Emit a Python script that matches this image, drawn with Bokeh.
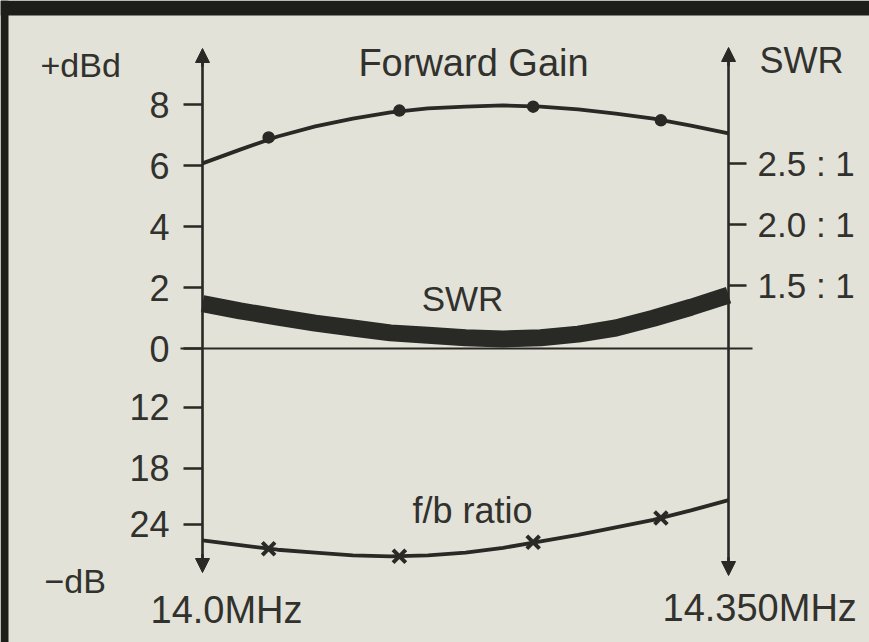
import numpy as np
from bokeh.plotting import figure
from bokeh.models import LinearAxis, FixedTicker, Range1d, Arrow, NormalHead
from bokeh.core.properties import value
from bokeh.embed import file_html
from bokeh.resources import INLINE

# ---------------- data ----------------
freq_mhz = [14.000, 14.025, 14.050, 14.075, 14.100, 14.125, 14.150, 14.175,
            14.200, 14.225, 14.250, 14.275, 14.300, 14.325, 14.350]
gain_dbd = [6.07, 6.52, 6.95, 7.28, 7.54, 7.74, 7.87, 7.93,
            7.97, 7.93, 7.84, 7.70, 7.54, 7.31, 7.05]
swr_ratio = [1.35, 1.29, 1.24, 1.19, 1.15, 1.11, 1.09, 1.07,
             1.06, 1.07, 1.10, 1.15, 1.23, 1.32, 1.42]
fb_db = [25.7, 26.2, 26.7, 27.0, 27.3, 27.4, 27.3, 27.0,
         26.5, 25.8, 25.1, 24.3, 23.5, 22.5, 21.4]

marker_freq = [14.044, 14.131, 14.220, 14.305]
marker_gain = [6.92, 7.80, 7.93, 7.48]
marker_fb = [26.6, 27.4, 25.9, 23.3]

gain_ticks = [8, 6, 4, 2, 0]
fb_ticks = [12, 18, 24]
swr_ticks = [2.5, 2.0, 1.5]
swr_tick_labels = ["2.5 : 1", "2.0 : 1", "1.5 : 1"]
freq_labels = ["14.0MHz", "14.350MHz"]

# lower (f/b) half of the left scale is drawn downward, non-linear below 12 dB
FB_DB_BREAKS = [0, 12, 18, 24, 30]
FB_POS_BREAKS = [0, -1.93, -3.93, -5.77, -7.61]


def fb_pos(db):
    return np.interp(db, FB_DB_BREAKS, FB_POS_BREAKS)


SWR_AT_ZERO = 0.982
SWR_PER_UNIT = 0.25

INK = "#292925"
TXT = "#31312d"
BG = "#e3e2d8"
DARK = "#1d1d1a"
FONT = value("Liberation Sans")

# ---------------- figure / scales ----------------
W, H = 869, 642
PX_PER_MHZ = 1503.0
PX_PER_UNIT = 30.5
X_AXIS_PX, Y_ZERO_PX = 202, 348
x0 = 14.0 - X_AXIS_PX / PX_PER_MHZ
x1 = 14.0 + (W - X_AXIS_PX) / PX_PER_MHZ
y1 = Y_ZERO_PX / PX_PER_UNIT
y0 = (Y_ZERO_PX - H) / PX_PER_UNIT


def px_x(px):
    return 14.0 + (px - X_AXIS_PX) / PX_PER_MHZ


def px_y(py):
    return (Y_ZERO_PX - py) / PX_PER_UNIT


p = figure(width=W, height=H, output_backend="svg", toolbar_location=None,
           x_range=Range1d(x0, x1), y_range=Range1d(y0, y1),
           x_axis_location=None, y_axis_location=None,
           min_border=0, min_border_left=0, min_border_right=0,
           min_border_top=0, min_border_bottom=0)
p.background_fill_color = BG
p.border_fill_color = BG
p.outline_line_color = None
p.grid.visible = False

p.extra_y_ranges = {"swr": Range1d(SWR_AT_ZERO + y0 * SWR_PER_UNIT,
                                   SWR_AT_ZERO + y1 * SWR_PER_UNIT)}

# dark scan edges (top band and left strip)
p.quad(left=[x0, x0], right=[x1, px_x(8)], top=[y1, y1], bottom=[px_y(15), y0],
       fill_color=DARK, line_color=None)

# left axis (gain up, f/b down)
left_ticks = gain_ticks + [float(fb_pos(v)) for v in fb_ticks]
overrides = {float(t): str(t) for t in gain_ticks}
for v in fb_ticks:
    overrides[float(fb_pos(v))] = str(v)
lax = LinearAxis(fixed_location=freq_mhz[0], bounds=(-7.2, 9.7),
                 ticker=FixedTicker(ticks=left_ticks),
                 major_label_overrides=overrides)
lax.axis_line_width = 2.6
lax.axis_line_color = INK
lax.major_tick_line_width = 2.6
lax.major_tick_line_color = INK
lax.major_tick_out = 19
lax.major_tick_in = 0
lax.minor_tick_line_color = None
lax.major_label_standoff = 14
lax.major_label_text_font = "Liberation Sans"
lax.major_label_text_font_size = "36px"
lax.major_label_text_color = TXT
p.add_layout(lax, "left")

# right axis (SWR)
rax = LinearAxis(fixed_location=freq_mhz[-1], y_range_name="swr",
                 bounds=(SWR_AT_ZERO - 7.3 * SWR_PER_UNIT, SWR_AT_ZERO + 9.7 * SWR_PER_UNIT),
                 ticker=FixedTicker(ticks=swr_ticks),
                 major_label_overrides={float(t): l for t, l in zip(swr_ticks, swr_tick_labels)})
rax.axis_line_width = 2.6
rax.axis_line_color = INK
rax.major_tick_line_width = 2.6
rax.major_tick_line_color = INK
rax.major_tick_out = 18
rax.major_tick_in = 0
rax.minor_tick_line_color = None
rax.major_label_standoff = 11
rax.major_label_text_font = "Liberation Sans"
rax.major_label_text_font_size = "35px"
rax.major_label_text_color = TXT
p.add_layout(rax, "right")

# arrow heads on the axis ends
for fx, top, bot in [(freq_mhz[0], px_y(48), px_y(572)), (freq_mhz[-1], px_y(47), px_y(575))]:
    p.add_layout(Arrow(end=NormalHead(size=14, fill_color=INK, line_color=INK, line_width=1),
                       x_start=fx, y_start=top - 0.6, x_end=fx, y_end=top,
                       line_color=INK, line_width=2.6))
    p.add_layout(Arrow(end=NormalHead(size=14, fill_color=INK, line_color=INK, line_width=1),
                       x_start=fx, y_start=bot + 0.6, x_end=fx, y_end=bot,
                       line_color=INK, line_width=2.6))

# zero line
p.segment(x0=[px_x(180)], y0=[0], x1=[px_x(752)], y1=[0],
          line_color=INK, line_width=2.2)

# SWR thick band
p.line(freq_mhz, swr_ratio, y_range_name="swr", line_color=INK, line_width=17,
       line_cap="butt")

# forward gain
p.line(freq_mhz, gain_dbd, line_color=INK, line_width=3.8)
p.scatter(marker_freq, marker_gain, marker="circle", size=11,
          fill_color=INK, line_color=INK, line_width=1.5)

# f/b ratio
p.line(freq_mhz, fb_pos(fb_db), line_color=INK, line_width=3.8)
p.scatter(marker_freq, fb_pos(marker_fb), marker="x", size=18,
          line_color=INK, line_width=4)


# texts
def txt(xpx, ypx, s, align="center", size="34px"):
    p.text(x=[px_x(xpx)], y=[px_y(ypx)], text=[s], text_font=FONT, text_font_size=size,
           text_align=align, text_baseline="middle", text_color=TXT)


txt(40, 64, "+dBd", "left", "34px")
txt(473, 62, "Forward Gain", "center", "38px")
txt(759, 60, "SWR", "left", "36px")
txt(462, 298, "SWR", "center", "35px")
txt(472, 510, "f/b ratio", "center", "36px")
txt(44, 580, "\u2212dB", "left", "34px")
txt(150, 609, freq_labels[0], "left", "38px")
txt(662, 607, freq_labels[1], "left", "38px")

open("out.html", "w").write(file_html(p, INLINE))
